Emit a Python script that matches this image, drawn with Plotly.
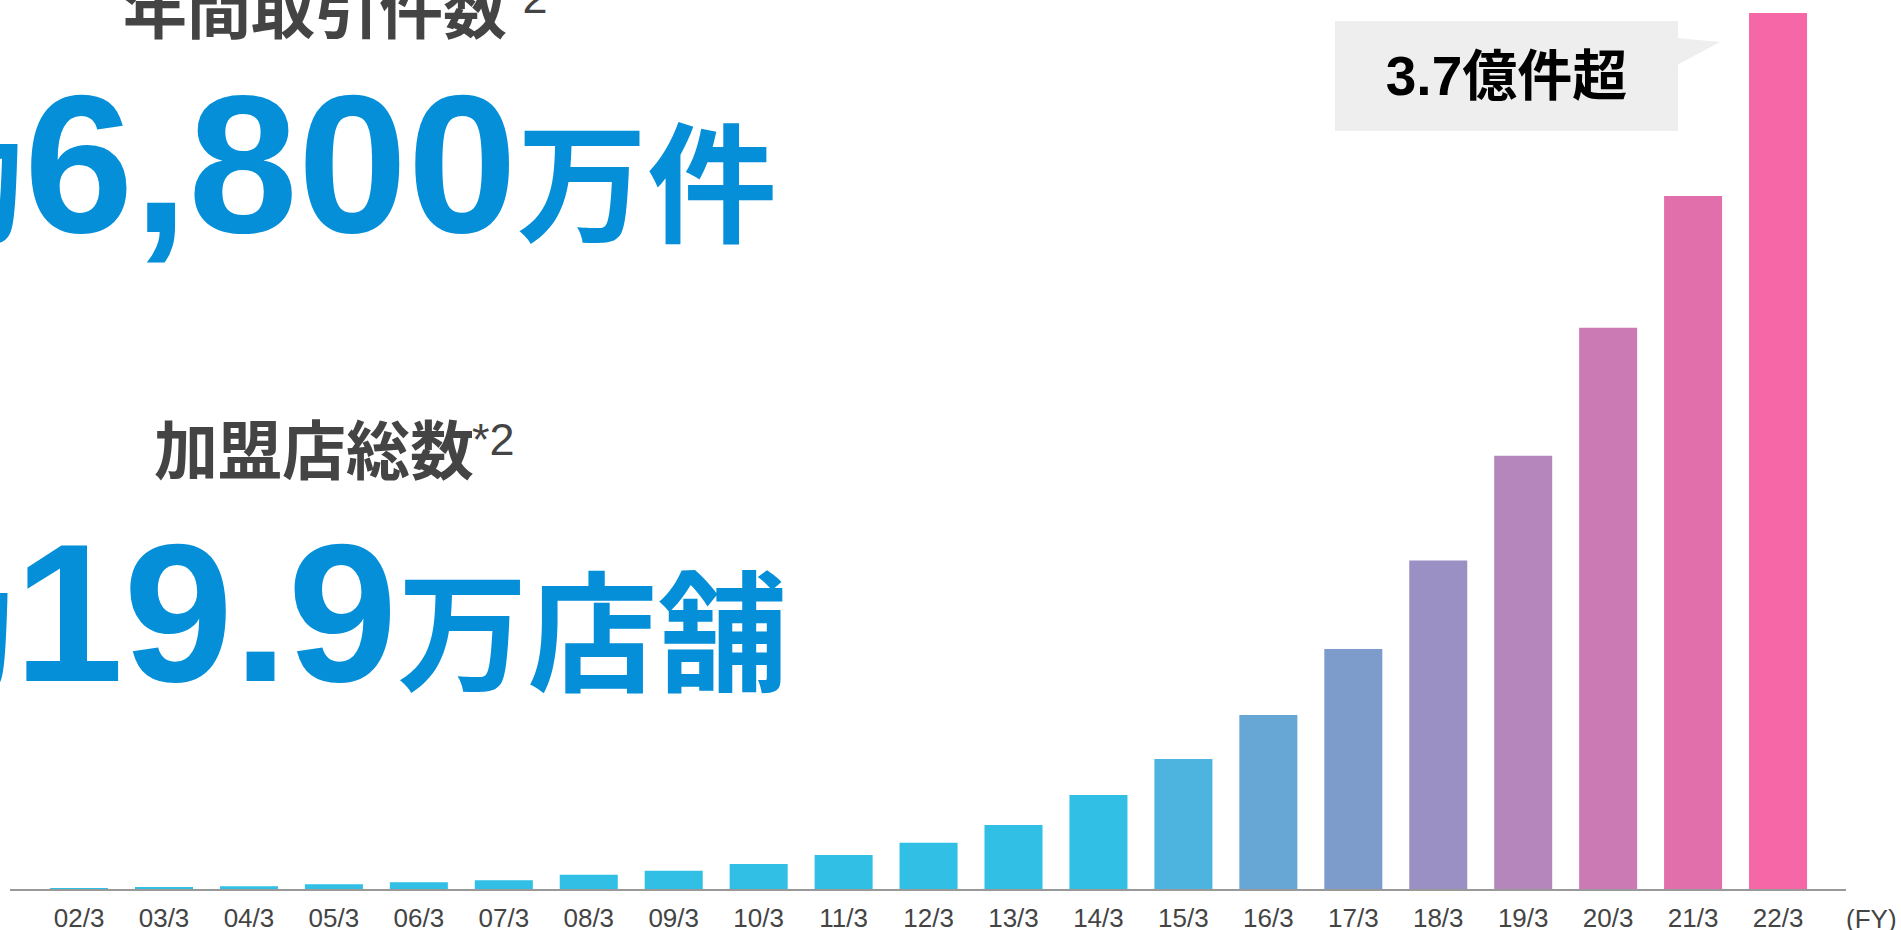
import plotly.graph_objects as go

# ---- data ----
fiscal_years = ["02/3", "03/3", "04/3", "05/3", "06/3", "07/3", "08/3", "09/3", "10/3", "11/3",
                "12/3", "13/3", "14/3", "15/3", "16/3", "17/3", "18/3", "19/3", "20/3", "21/3", "22/3"]
transactions_oku = [0.002, 0.007, 0.012, 0.020, 0.029, 0.037, 0.061, 0.078, 0.107, 0.146,
                    0.198, 0.274, 0.402, 0.557, 0.745, 1.027, 1.406, 1.855, 2.403, 2.967, 3.75]
bar_colors = ["#31BFE6"] * 13 + ["#4DB3DF", "#67A7D6", "#7E9CCB", "#9A90C3",
                                 "#B586BB", "#CB7AB3", "#E16FAC", "#F567A7"]
callout_text = "3.7億件超"
head1_title = "年間取引件数"
head1_value = "<span style='font-size:130px'>約</span>6,800<span style='font-size:130px'>万件</span>"
head2_title = "加盟店総数"
head2_value = "<span style='font-size:130px'>約</span>19.9<span style='font-size:130px'>万店舗</span>"
footnote_mark = "*2"

# ---- layout geometry (pixels) ----
W, H = 1901, 930
ML, MR, MT, MB = 10, 55, 0, 41
PW, PH = W - ML - MR, H - MT - MB


def px(x):
    return (x - ML) / PW


def py(y):
    return (MT + PH - y) / PH


JP = "Noto Sans CJK JP"
NUM_JP = "Liberation Sans, Noto Sans CJK JP"
BLUE = "#058FD9"
GRAY = "#444444"

fig = go.Figure()
fig.add_trace(go.Bar(
    x=fiscal_years, y=transactions_oku,
    marker=dict(color=bar_colors, line=dict(width=0)),
    hoverinfo="skip",
))

annotations = [
    dict(text=head1_title, x=px(121), y=py(53), xanchor="left", yanchor="bottom",
         font=dict(family=JP, size=64, color=GRAY, weight="bold")),
    dict(text=footnote_mark, x=px(503), y=py(25), xanchor="left", yanchor="bottom",
         font=dict(family="Liberation Sans", size=45, color=GRAY)),
    dict(text=head1_value, x=px(-108), y=py(276), xanchor="left", yanchor="bottom",
         font=dict(family=NUM_JP, size=197, color=BLUE, weight="bold")),
    dict(text=head2_title, x=px(152), y=py(494), xanchor="left", yanchor="bottom",
         font=dict(family=JP, size=64, color=GRAY, weight="bold")),
    dict(text=footnote_mark, x=px(470), y=py(467), xanchor="left", yanchor="bottom",
         font=dict(family="Liberation Sans", size=45, color=GRAY)),
    dict(text=head2_value, x=px(-118), y=py(725), xanchor="left", yanchor="bottom",
         font=dict(family=NUM_JP, size=197, color=BLUE, weight="bold")),
    dict(text=callout_text, x=px(1506.5), y=py(76), xanchor="center", yanchor="middle",
         width=343, height=110, bgcolor="#EEEEEE", borderpad=0, borderwidth=0,
         align="center", valign="middle",
         font=dict(family=NUM_JP, size=55, color="#000000", weight="bold")),
    dict(text="(FY)", x=px(1899), y=py(919), xanchor="right", yanchor="middle",
         font=dict(family="Liberation Sans Narrow, Liberation Sans", size=26, color=GRAY)),
]
for a in annotations:
    a.update(xref="paper", yref="paper", showarrow=False)

tri = "M {} {} L {} {} L {} {} Z".format(px(1677), py(38), px(1720), py(42), px(1677), py(65))

fig.update_layout(
    width=W, height=H,
    margin=dict(l=ML, r=MR, t=MT, b=MB, pad=0),
    paper_bgcolor="white", plot_bgcolor="white",
    showlegend=False,
    bargap=0.317,
    annotations=annotations,
    shapes=[dict(type="path", path=tri, xref="paper", yref="paper",
                 fillcolor="#EEEEEE", line=dict(width=0), layer="above")],
    xaxis=dict(type="category", range=[-0.813, 20.80], showline=True, linecolor="#999999",
               linewidth=2, showgrid=False, zeroline=False, ticks="", automargin=False,
               ticklabelstandoff=5,
               tickfont=dict(family="Liberation Sans Narrow, Liberation Sans", size=26, color=GRAY)),
    yaxis=dict(range=[0, PH / 233.6], visible=False, showgrid=False, zeroline=False),
)

fig.write_html("out.html")
